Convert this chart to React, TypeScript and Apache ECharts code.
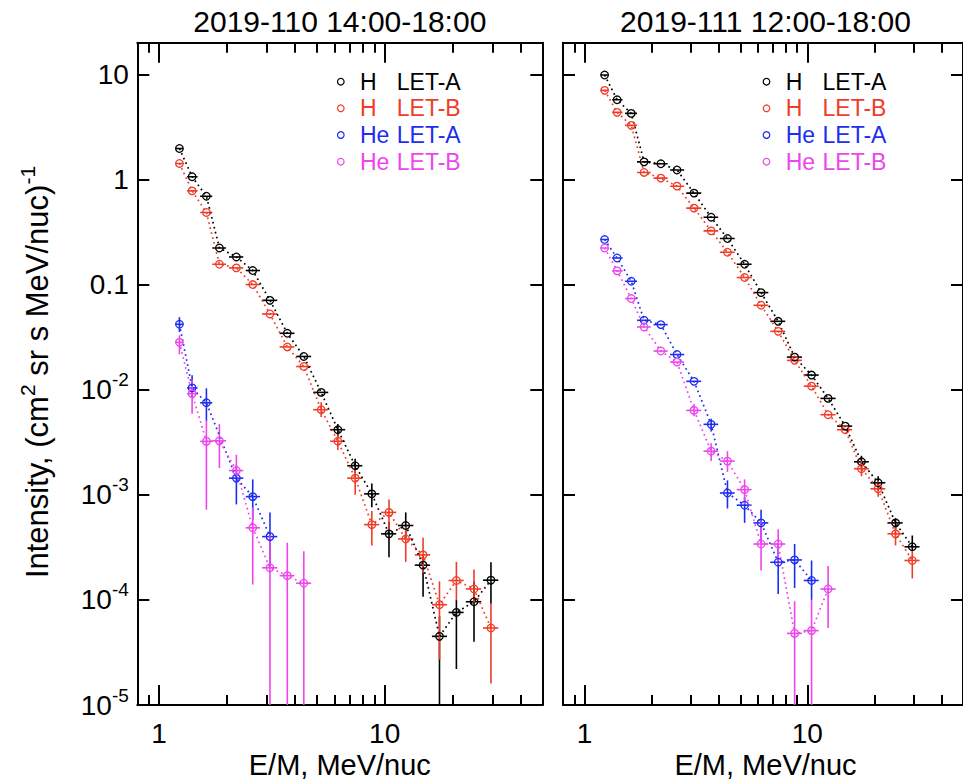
import React, { useEffect, useRef } from "react";
import * as echarts from "echarts";

const FONT = "'Liberation Sans', Arial, Helvetica, sans-serif";

// Energy bins (MeV/nuc): centre, lower edge, upper edge
const energies = [1.23, 1.4, 1.62, 1.85, 2.2, 2.6, 3.1, 3.7, 4.38, 5.23, 6.2, 7.4, 8.77, 10.45, 12.4, 14.8, 17.5, 20.8, 24.9, 29.6];
const binLow = [1.18, 1.33, 1.52, 1.72, 2.04, 2.42, 2.86, 3.42, 4.05, 4.82, 5.73, 6.82, 8.1, 9.64, 11.45, 13.6, 16.2, 19.2, 22.9, 27.3];
const binHigh = [1.28, 1.48, 1.72, 1.98, 2.36, 2.8, 3.34, 3.98, 4.72, 5.62, 6.68, 7.96, 9.46, 11.25, 13.4, 15.9, 18.9, 22.4, 26.8, 31.9];

const panelTitles = ["2019-110 14:00-18:00", "2019-111 12:00-18:00"];
const xAxisTitle = "E/M, MeV/nuc";
const xMajorTicks = [1, 10];
const xMinorTicks = [0.9, 2, 3, 4, 5, 6, 7, 8, 9, 20, 30, 40];
const yTicks = [1e-5, 1e-4, 1e-3, 1e-2, 0.1, 1, 10];

const legendSpecies = ["H", "H", "He", "He"];
const legendTelescopes = ["LET-A", "LET-B", "LET-A", "LET-B"];
const seriesColors = ["#000000", "#f03c28", "#1e2ef0", "#ec46ec"];

const N = null;
const all20 = [0, 1, 2, 3, 4, 5, 6, 7, 8, 9, 10, 11, 12, 13, 14, 15, 16, 17, 18, 19];

// ---------- 2019-110 14:00-18:00 ----------
const h110A = [1.97, 1.06, 0.693, 0.223, 0.183, 0.136, 0.0708, 0.0344, 0.0207, 0.00942, 0.00416, 0.00189, 0.00102, 4.25e-4, 5.1e-4, 2.14e-4, 4.5e-5, 7.6e-5, 9.6e-5, 1.54e-4];
const h110ALo = [N, N, N, N, N, N, N, N, N, N, 3.58e-3, 1.61e-3, 7.6e-4, 2.55e-4, 3.9e-4, 1.07e-4, 1e-6, 2.2e-5, 4.0e-5, 9.2e-5];
const h110AHi = [N, N, N, N, N, N, N, N, N, N, 4.72e-3, 2.2e-3, 1.28e-3, 5.5e-4, 6.8e-4, 2.6e-4, 7e-5, 1.0e-4, 1.5e-4, 2.28e-4];

const h110B = [1.42, 0.778, 0.485, 0.156, 0.144, 0.1, 0.0525, 0.0255, 0.0166, 0.00645, 0.00323, 0.00144, 5.2e-4, 6.8e-4, 3.8e-4, 2.68e-4, 9.0e-5, 1.53e-4, 1.27e-4, 5.4e-5];
const h110BLo = [N, N, N, N, N, N, N, N, N, 5.5e-3, 2.66e-3, 1.0e-3, 3.3e-4, 4.6e-4, 2.3e-4, 1.8e-4, 2.7e-5, 9.9e-5, 9.5e-5, 1.6e-5];
const h110BHi = [N, N, N, N, N, N, N, N, N, 7.6e-3, 3.74e-3, 1.72e-3, 7.0e-4, 9.0e-4, 5.0e-4, 3.9e-4, 1.5e-4, 2.3e-4, 1.95e-4, 9.3e-5];

const he110AIdx = [0, 1, 2, 4, 5, 6];
const he110A = [0.0419, 0.0104, 0.0075, 1.44e-3, 9.6e-4, 4.0e-4];
const he110ALo = [0.0354, 0.0085, 0.00505, 8.1e-4, 5.8e-4, 2.0e-4];
const he110AHi = [0.049, 0.0137, 0.0103, 1.9e-3, 1.4e-3, 6.8e-4];

const he110BIdx = [0, 1, 2, 3, 4, 5, 6, 7, 8];
const he110B = [0.0282, 0.00916, 0.00322, 0.00326, 1.7e-3, 4.85e-4, 2.02e-4, 1.7e-4, 1.44e-4];
const he110BLo = [0.0217, 0.0059, 7.2e-4, 1.8e-3, 1.5e-3, 1.4e-4, 1e-7, 1e-7, 1e-7];
const he110BHi = [0.0329, 0.0125, 0.0051, 4.7e-3, 2.4e-3, 7.6e-4, 4.1e-4, 3.5e-4, 2.9e-4];

// ---------- 2019-111 12:00-18:00 ----------
const h111A = [9.85, 5.73, 4.25, 1.47, 1.41, 1.23, 0.741, 0.437, 0.274, 0.156, 0.0839, 0.0447, 0.0204, 0.01377, 0.00826, 0.0045, 0.00206, 0.0013, 5.4e-4, 3.2e-4];
const h111ALo = [N, N, N, N, N, N, N, N, N, N, N, N, N, N, N, N, 1.8e-3, 1.1e-3, 4.7e-4, 2.9e-4];
const h111AHi = [N, N, N, N, N, N, N, N, N, N, N, N, N, N, N, N, 2.35e-3, 1.5e-3, 6.0e-4, 4.1e-4];

const h111B = [7.04, 4.35, 3.27, 1.166, 1.03, 0.863, 0.533, 0.324, 0.203, 0.1166, 0.0635, 0.0359, 0.019, 0.0108, 0.00578, 0.00416, 0.00177, 0.00114, 4.25e-4, 2.37e-4];
const h111BLo = [N, N, N, N, N, N, N, N, N, N, N, N, N, N, N, N, 1.5e-3, 9.6e-4, 3.3e-4, 1.6e-4];
const h111BHi = [N, N, N, N, N, N, N, N, N, N, N, N, N, N, N, N, 2.1e-3, 1.35e-3, 4.9e-4, 2.9e-4];

const he111AIdx = [0, 1, 2, 3, 4, 5, 6, 7, 8, 9, 10, 11, 12, 13];
const he111A = [0.268, 0.179, 0.1075, 0.0457, 0.0416, 0.0216, 0.012, 0.00468, 1.04e-3, 7.96e-4, 5.4e-4, 2.28e-4, 2.4e-4, 1.53e-4];
const he111ALo = [N, N, N, N, N, N, N, 4.0e-3, 7.4e-4, 5.4e-4, 3.5e-4, 1.14e-4, 1.3e-4, 1.0e-4];
const he111AHi = [N, N, N, N, N, N, N, 5.3e-3, 1.37e-3, 9.5e-4, 7.2e-4, 3.4e-4, 3.4e-4, 2.37e-4];

const he111BIdx = [0, 1, 2, 3, 4, 5, 6, 7, 8, 9, 10, 11, 12, 13, 14];
const he111B = [0.223, 0.135, 0.0736, 0.0395, 0.0233, 0.0183, 0.00635, 0.0026, 0.00209, 0.00112, 3.4e-4, 3.4e-4, 4.8e-5, 5.1e-5, 1.27e-4];
const he111BLo = [N, N, N, N, N, N, 5.6e-3, 2.1e-3, 1.65e-3, 8.2e-4, 1.9e-4, 2.2e-4, 1e-7, 1e-7, 5.4e-5];
const he111BHi = [N, N, N, N, N, N, 7.3e-3, 3.1e-3, 2.6e-3, 1.4e-3, 5.6e-4, 4.7e-4, 9.7e-5, 1.0e-4, 2.1e-4];

type Dataset = { idx: number[]; vals: number[]; lo: (number | null)[]; hi: (number | null)[] };

const panels: Dataset[][] = [
  [
    { idx: all20, vals: h110A, lo: h110ALo, hi: h110AHi },
    { idx: all20, vals: h110B, lo: h110BLo, hi: h110BHi },
    { idx: he110AIdx, vals: he110A, lo: he110ALo, hi: he110AHi },
    { idx: he110BIdx, vals: he110B, lo: he110BLo, hi: he110BHi },
  ],
  [
    { idx: all20, vals: h111A, lo: h111ALo, hi: h111AHi },
    { idx: all20, vals: h111B, lo: h111BLo, hi: h111BHi },
    { idx: he111AIdx, vals: he111A, lo: he111ALo, hi: he111AHi },
    { idx: he111BIdx, vals: he111B, lo: he111BLo, hi: he111BHi },
  ],
];

// layout
const PANEL_LEFT = [137.3, 563];
const GRID_TOP = 42.7;
const GRID_W = 405;
const GRID_H = 662.3;
const LEGEND_ROWS = [81.7, 108.3, 135, 161.7];

function buildOption(): any {
  const grids = PANEL_LEFT.map((l) => ({ left: l, top: GRID_TOP, width: GRID_W, height: GRID_H }));
  const xAxes: any[] = [];
  const yAxes: any[] = [];
  const tickLine = { color: "#000", width: 2 };
  for (let g = 0; g < 2; g++) {
    const base = {
      type: "log",
      logBase: 10,
      min: 0.8,
      max: 50,
      gridIndex: g,
      splitLine: { show: false },
      axisLabel: { show: false },
      axisTick: { show: false },
      axisLine: { show: false, onZero: false },
    };
    xAxes.push({
      ...base,
      position: "bottom",
      axisLine: { show: true, onZero: false, lineStyle: tickLine },
      axisTick: { show: true, inside: true, length: 20, customValues: xMajorTicks, lineStyle: tickLine },
      axisLabel: {
        show: true,
        customValues: xMajorTicks,
        margin: 14,
        fontSize: 28,
        color: "#000",
        fontFamily: FONT,
        formatter: (v: number) => String(Math.round(v)),
      },
    });
    xAxes.push({
      ...base,
      position: "bottom",
      axisTick: { show: true, inside: true, length: 10, customValues: xMinorTicks, lineStyle: tickLine },
    });
    xAxes.push({
      ...base,
      position: "top",
      axisLine: { show: true, onZero: false, lineStyle: tickLine },
      axisTick: { show: true, inside: true, length: 20, customValues: xMajorTicks, lineStyle: tickLine },
    });
    xAxes.push({
      ...base,
      position: "top",
      axisTick: { show: true, inside: true, length: 10, customValues: xMinorTicks, lineStyle: tickLine },
    });
    const yBase = {
      type: "log",
      logBase: 10,
      min: 1e-5,
      max: 20,
      gridIndex: g,
      splitLine: { show: false },
      axisLine: { show: true, onZero: false, lineStyle: tickLine },
      axisTick: { show: true, inside: true, length: 12, customValues: yTicks, lineStyle: tickLine },
    };
    yAxes.push({
      ...yBase,
      position: "left",
      axisLabel:
        g === 0
          ? {
              show: true,
              customValues: yTicks,
              margin: 8.5,
              color: "#000",
              fontFamily: FONT,
              formatter: (v: number) => {
                const e = Math.round(Math.log10(v));
                if (e === 1) return "{b|10}";
                if (e === 0) return "{b|1}";
                if (e === -1) return "{b|0.1}";
                return "{b|10}{s|" + e + "}";
              },
              rich: {
                b: { fontSize: 28, lineHeight: 39, fontFamily: FONT, color: "#000" },
                s: { fontSize: 19, lineHeight: 19, verticalAlign: "top", fontFamily: FONT, color: "#000" },
              },
            }
          : { show: false },
    });
    yAxes.push({ ...yBase, position: "right", axisLabel: { show: false } });
  }

  const series: any[] = [];
  panels.forEach((sets, p) => {
    sets.forEach((ds, s) => {
      const color = seriesColors[s];
      const xAxisIndex = p * 4;
      const yAxisIndex = p * 2;
      series.push({
        type: "line",
        xAxisIndex,
        yAxisIndex,
        data: ds.idx.map((k, j) => [energies[k], ds.vals[j]]),
        symbol: "circle",
        symbolSize: 7.5,
        showSymbol: true,
        lineStyle: { color, width: 1.7, type: [1.7, 3.4] },
        itemStyle: { color: "rgba(0,0,0,0)", borderColor: color, borderWidth: 1.3 },
        silent: true,
        clip: true,
      });
      series.push({
        type: "custom",
        xAxisIndex,
        yAxisIndex,
        clip: true,
        silent: true,
        encode: { x: 0, y: 1 },
        data: ds.idx.map((k, j) => [energies[k], ds.vals[j], binLow[k], binHigh[k], ds.lo[j] ?? 0, ds.hi[j] ?? 0]),
        renderItem: (params: any, api: any) => {
          const x = api.value(0);
          const y = api.value(1);
          const a = api.coord([api.value(2), y]);
          const b = api.coord([api.value(3), y]);
          const children: any[] = [
            { type: "line", shape: { x1: a[0], y1: a[1], x2: b[0], y2: b[1] }, style: { stroke: color, lineWidth: 1.6 } },
          ];
          const lo = api.value(4);
          const hi = api.value(5);
          if (lo > 0 && hi > 0) {
            const c = api.coord([x, lo]);
            const d = api.coord([x, hi]);
            children.push({
              type: "line",
              shape: { x1: c[0], y1: c[1], x2: d[0], y2: d[1] },
              style: { stroke: color, lineWidth: 1.6 },
            });
          }
          return { type: "group", children };
        },
      });
    });
  });

  const graphics: any[] = [];
  PANEL_LEFT.forEach((L, p) => {
    const cx = L + GRID_W / 2;
    graphics.push({
      type: "text",
      x: cx,
      y: 21.7,
      style: { text: panelTitles[p], fontSize: 30, fontFamily: FONT, fill: "#000", align: "center", verticalAlign: "middle" },
    });
    graphics.push({
      type: "text",
      x: cx,
      y: 765,
      style: { text: xAxisTitle, fontSize: 29, fontFamily: FONT, fill: "#000", align: "center", verticalAlign: "middle" },
    });
    LEGEND_ROWS.forEach((ry, r) => {
      const col = seriesColors[r];
      graphics.push({
        type: "circle",
        shape: { cx: L + 203.5, cy: ry, r: 3.3 },
        style: { fill: "none", stroke: col, lineWidth: 1.2 },
      });
      graphics.push({
        type: "text",
        x: L + 222.7,
        y: ry,
        style: { text: legendSpecies[r], fontSize: 23, fontFamily: FONT, fill: col, align: "left", verticalAlign: "middle" },
      });
      graphics.push({
        type: "text",
        x: L + 259.5,
        y: ry,
        style: { text: legendTelescopes[r], fontSize: 23, fontFamily: FONT, fill: col, align: "left", verticalAlign: "middle" },
      });
    });
  });
  graphics.push({
    type: "text",
    x: 37,
    y: 372,
    rotation: Math.PI / 2,
    style: {
      text: "{n|Intensity, (cm}{s|2}{n| sr s MeV/nuc)}{s|-1}",
      align: "center",
      verticalAlign: "middle",
      fontFamily: FONT,
      fontSize: 31,
      fill: "#000",
      rich: {
        n: { fontSize: 31, lineHeight: 41, fontFamily: FONT, fill: "#000" },
        s: { fontSize: 21, lineHeight: 21, verticalAlign: "top", fontFamily: FONT, fill: "#000" },
      },
    },
  });

  return {
    animation: false,
    backgroundColor: "#ffffff",
    grid: grids,
    xAxis: xAxes,
    yAxis: yAxes,
    series,
    graphic: graphics,
  };
}

export default function App() {
  const ref = useRef<HTMLDivElement>(null);
  useEffect(() => {
    if (!ref.current) return;
    const chart = echarts.init(ref.current, null, { renderer: "svg" });
    chart.setOption(buildOption());
    return () => chart.dispose();
  }, []);
  return (
    <div
      ref={ref}
      style={{ position: "absolute", left: 0, top: 0, width: 963, height: 783, background: "#fff", overflow: "hidden" }}
    />
  );
}
